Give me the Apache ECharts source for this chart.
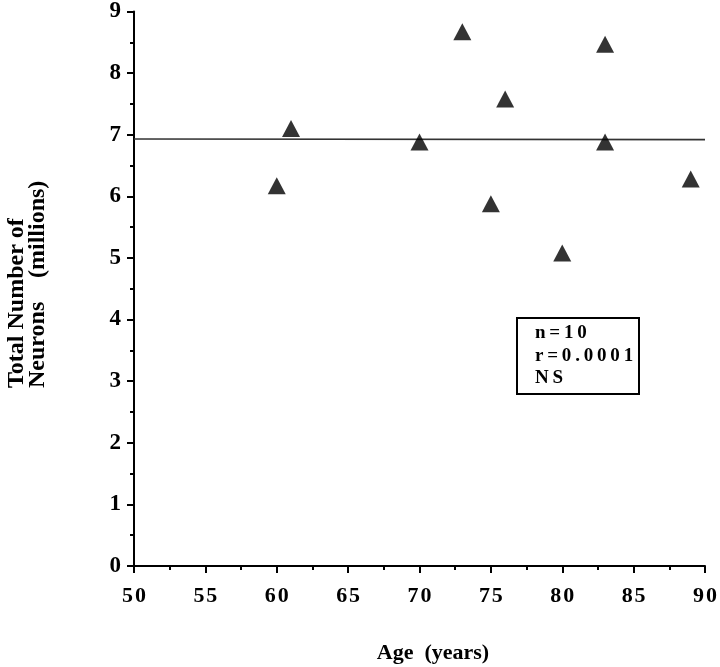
<!DOCTYPE html>
<html>
<head>
<meta charset="utf-8">
<script src="https://cdn.jsdelivr.net/npm/echarts@6/dist/echarts.min.js"></script>
<style>
html,body{margin:0;padding:0;background:#fff;}
#chart{width:720px;height:667px;}
</style>
</head>
<body>
<div id="chart"></div>
<script>
// Data
var ages = [60, 61, 70, 73, 75, 76, 80, 83, 83, 89];
var neurons = [6.17, 7.10, 6.88, 8.67, 5.88, 7.58, 5.08, 8.47, 6.88, 6.28];
var fitX = [50, 90];
var fitY = [6.93, 6.92];
var xTicks = [50, 55, 60, 65, 70, 75, 80, 85, 90];
var yTicks = [0, 1, 2, 3, 4, 5, 6, 7, 8, 9];
var statLines = ['n=10', 'r=0.0001', 'NS'];
var xTitle = 'Age  (years)';
var yTitle1 = 'Total Number of';
var yTitle2a = 'Neurons';
var yTitle2b = '(millions)';

var SERIF = '"Liberation Serif", "Times New Roman", serif';
function spaced(s, sp) { return String(s).split('').join(sp); }

var chart = echarts.init(document.getElementById('chart'), null, {renderer: 'canvas'});

var pts = ages.map(function (a, i) { return [a, neurons[i]]; });
var fit = fitX.map(function (a, i) { return [a, fitY[i]]; });

var axisCommon = {
  axisLine: {show: true, onZero: false, lineStyle: {color: '#000', width: 2}},
  axisTick: {show: true, inside: false, length: 7, lineStyle: {color: '#000', width: 2}},
  minorTick: {show: true, splitNumber: 2, length: 4, lineStyle: {color: '#000', width: 2}},
  splitLine: {show: false},
  minorSplitLine: {show: false}
};

chart.setOption({
  backgroundColor: '#fff',
  animation: false,
  grid: {left: 134, right: 15, top: 9, bottom: 101, containLabel: false},
  xAxis: Object.assign({
    type: 'value', min: xTicks[0], max: xTicks[xTicks.length - 1], interval: 5,
    axisLabel: {
      color: '#000', fontFamily: SERIF, fontWeight: 'bold', fontSize: 22, margin: 19,
      formatter: function (v) { return spaced(v, '\u200A'); }
    }
  }, axisCommon),
  yAxis: Object.assign({
    type: 'value', min: yTicks[0], max: yTicks[yTicks.length - 1], interval: 1,
    axisLabel: {
      color: '#000', fontFamily: SERIF, fontWeight: 'bold', fontSize: 23, margin: 13,
      formatter: function (v) { return String(v); }
    }
  }, axisCommon),
  series: [
    {
      type: 'line', data: fit, symbol: 'none', silent: true,
      lineStyle: {color: '#333', width: 1.6}, z: 1
    },
    {
      type: 'scatter', data: pts, symbol: 'triangle', symbolSize: [18, 17],
      itemStyle: {color: '#000'}, z: 3
    }
  ],
  graphic: [
    {type: 'text', x: 17, y: 388, rotation: Math.PI / 2,
      style: {text: yTitle1, font: 'bold 24px ' + SERIF, fill: '#000', align: 'left', verticalAlign: 'middle'}},
    {type: 'text', x: 38, y: 388, rotation: Math.PI / 2,
      style: {text: yTitle2a, font: 'bold 24px ' + SERIF, fill: '#000', align: 'left', verticalAlign: 'middle'}},
    {type: 'text', x: 38, y: 278, rotation: Math.PI / 2,
      style: {text: yTitle2b, font: 'bold 24px ' + SERIF, fill: '#000', align: 'left', verticalAlign: 'middle'}},
    {type: 'text', x: 433, y: 653,
      style: {text: xTitle, font: 'bold 22px ' + SERIF, fill: '#000', align: 'center', verticalAlign: 'middle'}},
    {type: 'rect', shape: {x: 517, y: 318, width: 122, height: 76},
      style: {fill: '#fff', stroke: '#000', lineWidth: 2}},
    {type: 'text', x: 535, y: 333,
      style: {text: spaced(statLines[0], '\u2009'), font: 'bold 19px ' + SERIF, fill: '#000', align: 'left', verticalAlign: 'middle'}},
    {type: 'text', x: 535, y: 356,
      style: {text: spaced(statLines[1], '\u2009'), font: 'bold 19px ' + SERIF, fill: '#000', align: 'left', verticalAlign: 'middle'}},
    {type: 'text', x: 535, y: 378,
      style: {text: spaced(statLines[2], '\u2009'), font: 'bold 19px ' + SERIF, fill: '#000', align: 'left', verticalAlign: 'middle'}}
  ]
});
</script>
</body>
</html>
